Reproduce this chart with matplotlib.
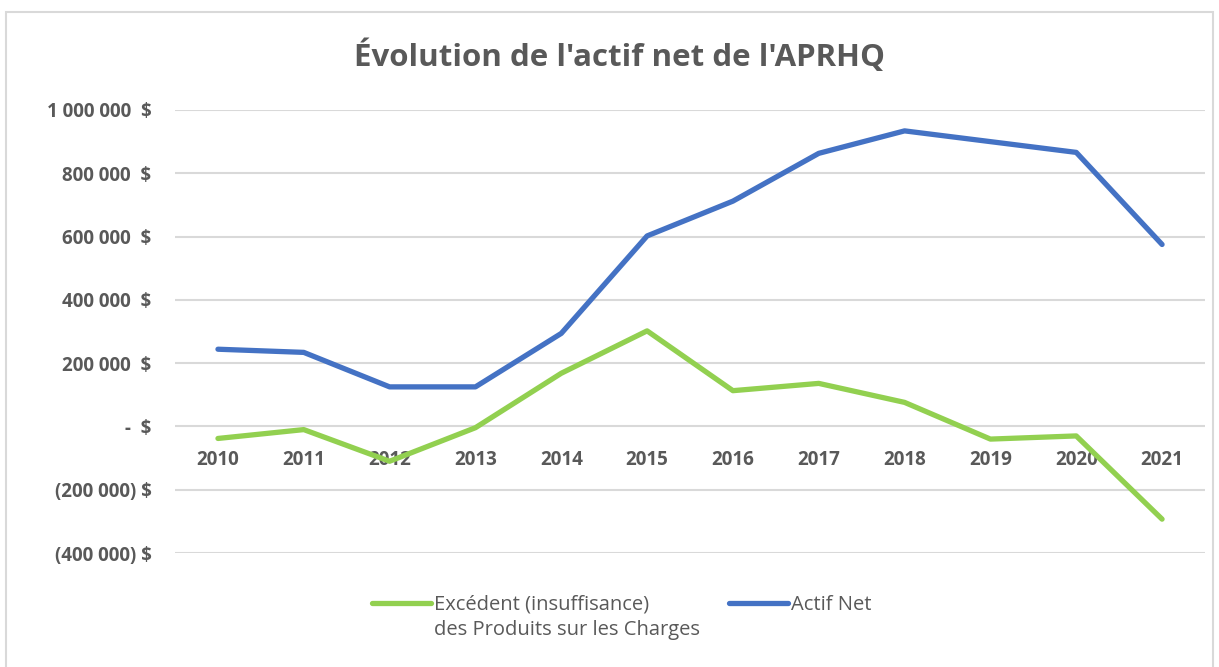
import matplotlib
matplotlib.use("Agg")
import matplotlib.pyplot as plt
from matplotlib.patches import Rectangle

years = ["2010", "2011", "2012", "2013", "2014", "2015",
         "2016", "2017", "2018", "2019", "2020", "2021"]
actif_net = [244000, 234000, 125000, 125000, 294000, 602000,
             712000, 863000, 934000, 900000, 866000, 575000]
excedent = [-38000, -10000, -110000, -4000, 168000, 302000,
            113000, 136000, 76000, -40000, -30000, -293000]
y_ticks = [-400000, -200000, 0, 200000, 400000, 600000, 800000, 1000000]
y_labels = ["(400 000) $", "(200 000) $", "-  $", "200 000  $", "400 000  $",
            "600 000  $", "800 000  $", "1 000 000  $"]
legend_labels = ["Excédent (insuffisance)", "Actif Net"]
legend_extra = "des Produits sur les Charges"

grey = "#595959"
plt.rcParams['font.family'] = ['Open Sans', 'DejaVu Sans']

fig = plt.figure(figsize=(12.19, 6.67), dpi=100)
ax = fig.add_axes([0.1436, 0.1709, 0.8449, 0.6642])

x = list(range(len(years)))
ax.plot(x, excedent, color="#92D050", lw=3.8, solid_capstyle="round",
        solid_joinstyle="round", label=legend_labels[0], zorder=3)
ax.plot(x, actif_net, color="#4472C4", lw=3.8, solid_capstyle="round",
        solid_joinstyle="round", label=legend_labels[1], zorder=3)

ax.set_xlim(-0.5, 11.5)
ax.set_ylim(-400000, 1000000)
ax.set_yticks(y_ticks)
ax.set_yticklabels(y_labels)
ax.set_xticks(x)
ax.set_xticklabels(years)

for s in ax.spines.values():
    s.set_visible(False)
ax.spines['bottom'].set_position(('data', 0))
ax.tick_params(axis='both', length=0, colors=grey, labelsize=13.5)
ax.tick_params(axis='x', pad=17)
ax.tick_params(axis='y', pad=17)
for lab in ax.get_xticklabels() + ax.get_yticklabels():
    lab.set_fontweight("bold")
ax.grid(axis='y', color="#D9D9D9", lw=1.5, zorder=0)
ax.set_axisbelow(True)

fig.text(0.508, 0.916, "Évolution de l'actif net de l'APRHQ", ha="center",
         va="center", fontsize=22.5, fontweight="bold", color=grey)

leg = ax.legend(loc="center", bbox_to_anchor=(0.51, 0.093),
                bbox_transform=fig.transFigure, ncol=2, frameon=False,
                fontsize=14.5, handlelength=2.9, handletextpad=0.15,
                columnspacing=4.0, labelcolor=grey)

# second line of the first legend entry, under its first line
fig.canvas.draw()
bb = leg.get_texts()[0].get_window_extent().transformed(fig.transFigure.inverted())
fig.text(bb.x0, bb.y0 - 0.008, legend_extra, ha="left", va="top",
         fontsize=14.5, color=grey)

fig.add_artist(Rectangle((0.005, -0.01), 0.99, 0.992, transform=fig.transFigure,
                         fill=False, edgecolor="#D9D9D9", lw=1.5))

fig.savefig("out.png", dpi=100)
